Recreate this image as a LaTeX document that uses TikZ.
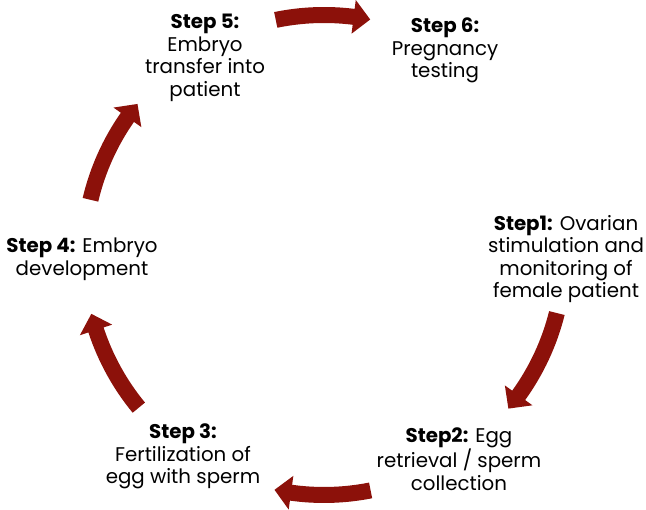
\documentclass[tikz,border=0pt]{standalone}
\usepackage{fontspec}
\setmainfont{Poppins}
\definecolor{arrowred}{RGB}{140,17,10}
\tikzset{
  steptext/.style={align=center, font=\fontsize{19.8}{22.6}\selectfont, inner sep=0pt},
  cyc/.style={fill=arrowred, draw=none}
}
\newcommand\cycarrow[2]{%
  \fill[cyc] (#1:248) arc[start angle=#1, end angle={#2+4}, radius=248]
    -- ({#2+4}:257) -- (#2:240) -- ({#2+4}:223) -- ({#2+4}:232)
    arc[start angle={#2+4}, end angle=#1, radius=232] -- cycle;}
\begin{document}
\begin{tikzpicture}[x=1pt,y=1pt]
\useasboundingbox (0,0) rectangle (646,510);
\node[steptext] (s5) at (205,452) {\textbf{Step 5:}\\Embryo\\transfer into\\patient};
\node[steptext] (s6) at (445,459.5) {\textbf{Step 6:}\\Pregnancy\\testing};
\node[steptext] (s1) at (566,251) {\textbf{Step1:} Ovarian\\stimulation and\\monitoring of\\female patient};
\node[steptext] (s4) at (82,251) {\textbf{Step 4:} Embryo\\development};
\node[steptext] (s3) at (183,53.5) {\textbf{Step 3:}\\Fertilization of\\egg with sperm};
\node[steptext] (s2) at (459,50.5) {\textbf{Step2:} Egg\\retrieval / sperm\\collection};
\begin{scope}[shift={(324,255)}]
  \cycarrow{101.6}{78.9}
  \cycarrow{-14}{-39.8}
  \cycarrow{-78.8}{-101.9}
  \cycarrow{219.5}{194.2}
  \cycarrow{166.7}{141}
\end{scope}
\end{tikzpicture}
\end{document}
